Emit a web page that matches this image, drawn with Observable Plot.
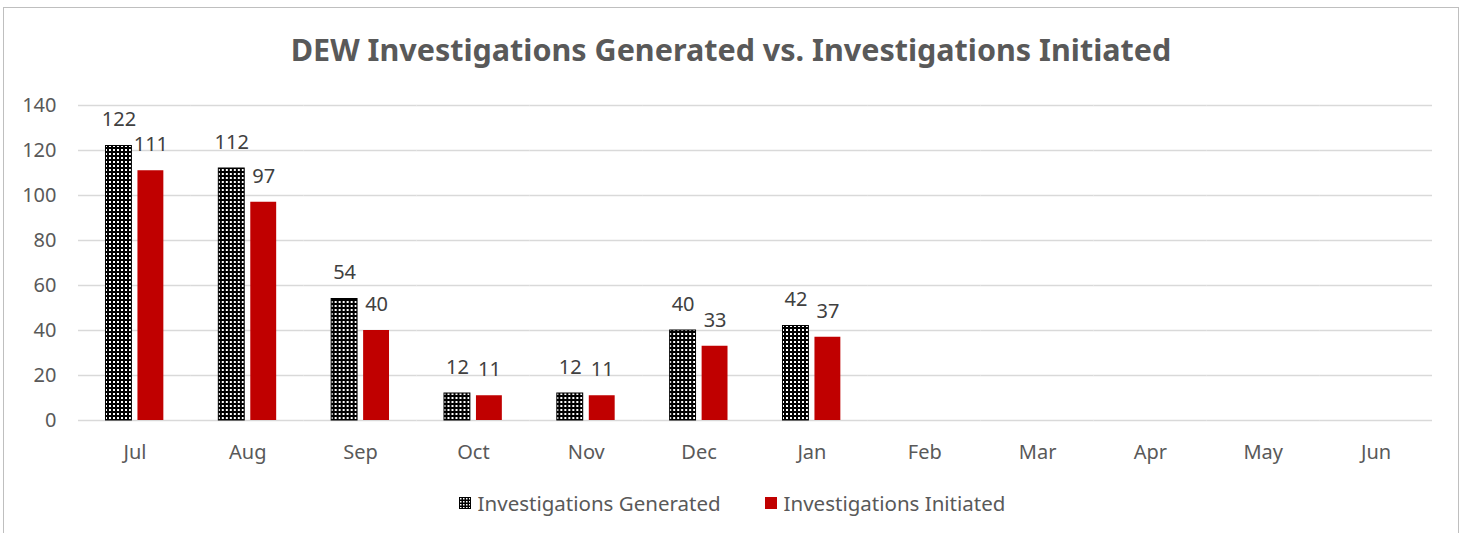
<!DOCTYPE html>
<html>
<head>
<meta charset="utf-8">
<script src="https://cdn.jsdelivr.net/npm/d3@7"></script>
<script src="https://cdn.jsdelivr.net/npm/@observablehq/plot@0.6"></script>
<style>
  html, body { margin: 0; padding: 0; background: #fff; }
  body { position: relative; width: 1462px; height: 533px; overflow: hidden; font-family: "Noto Sans", sans-serif; }
  #frame { position: absolute; left: 3px; top: 7px; width: 1456px; height: 540px; border: 1.5px solid #bfbfbf; box-sizing: border-box; }
  #title { position: absolute; left: 0; top: 28px; width: 1462px; text-align: center; font-size: 30.5px; font-weight: bold; color: #595959; }
  #chart { position: absolute; left: 0; top: 80px; }
  #legend { position: absolute; left: 1px; top: 489px; width: 1462px; display: flex; justify-content: center; gap: 44px; font-size: 20.5px; color: #595959; }
  #legend span { display: inline-flex; align-items: center; }
  #legend i { display: inline-block; width: 12px; height: 12px; margin-right: 7px; }
</style>
</head>
<body>
<div id="frame"></div>
<div id="title">DEW Investigations Generated vs. Investigations Initiated</div>
<div id="chart"></div>
<div id="legend">
  <span><svg width="12" height="12" style="margin-right:7px"><defs><pattern id="dotsL" width="3" height="3" patternUnits="userSpaceOnUse"><rect width="3" height="3" fill="#000"/><rect x="1" y="1" width="1.5" height="1.5" fill="#fff"/></pattern></defs><rect x="0.5" y="0.5" width="11" height="11" fill="url(#dotsL)" stroke="#000" stroke-width="1"/></svg>Investigations Generated</span>
  <span><i style="background:#c00000"></i>Investigations Initiated</span>
</div>
<script>
const months = ["Jul","Aug","Sep","Oct","Nov","Dec","Jan","Feb","Mar","Apr","May","Jun"];
const seriesNames = ["Investigations Generated", "Investigations Initiated"];
const generated = [122, 112, 54, 12, 12, 40, 42, null, null, null, null, null];
const initiated = [111, 97, 40, 11, 11, 33, 37, null, null, null, null, null];
const yTicks = [0, 20, 40, 60, 80, 100, 120, 140];

const data = [];
months.forEach((m, i) => {
  if (generated[i] != null) data.push({month: m, series: seriesNames[0], value: generated[i]});
  if (initiated[i] != null) data.push({month: m, series: seriesNames[1], value: initiated[i]});
});
const gridData = months.flatMap(m => yTicks.map(t => ({month: m, tick: t})));

const plot = Plot.plot({
  width: 1462,
  height: 390,
  marginLeft: 78,
  marginRight: 30,
  marginTop: 25,
  marginBottom: 50,
  style: {fontFamily: "Noto Sans, sans-serif", fontSize: "20px", background: "transparent"},
  fx: {domain: months, padding: 0, round: false, label: null, axis: null},
  x: {domain: seriesNames, paddingInner: 0.19, paddingOuter: 0.86, round: false, axis: null},
  y: {domain: [0, 140], ticks: yTicks, label: null},
  marks: [
    Plot.ruleY(gridData, {fx: "month", y: "tick", stroke: "#d9d9d9", strokeWidth: 1.5}),
    Plot.axisY({ticks: yTicks, tickSize: 0, tickPadding: 22, fill: "#595959", fontSize: 20, label: null}),
    Plot.axisFx({domain: months, anchor: "bottom", tickSize: 0, tickPadding: 24, fill: "#595959", fontSize: 20, label: null}),
    Plot.barY(data, {
      fx: "month", x: "series", y: "value",
      fill: d => d.series === seriesNames[0] ? "url(#dots)" : "#c00000",
      stroke: d => d.series === seriesNames[0] ? "#000" : "none",
      strokeWidth: 1
    }),
    Plot.text(data, {
      fx: "month", x: "series", y: "value", text: d => String(d.value),
      dy: -26, fill: "#404040", fontSize: 20
    })
  ]
});

const defs = d3.select(plot).insert("defs", ":first-child");
const pat = defs.append("pattern").attr("id", "dots").attr("width", 4).attr("height", 4).attr("patternUnits", "userSpaceOnUse");
pat.append("rect").attr("width", 4).attr("height", 4).attr("fill", "#000");
pat.append("rect").attr("x", 1).attr("y", 1).attr("width", 2).attr("height", 2).attr("fill", "#fff");

document.getElementById("chart").appendChild(plot);
</script>
</body>
</html>
